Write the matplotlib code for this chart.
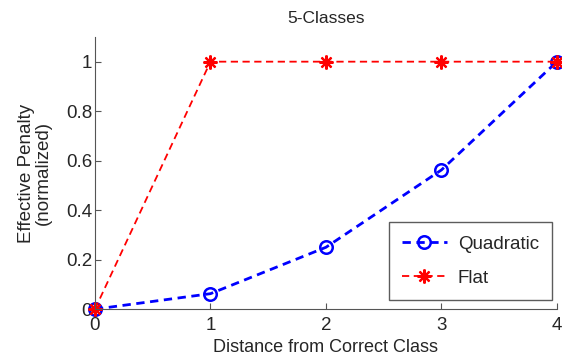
import matplotlib
matplotlib.use("Agg")
from matplotlib import pyplot as plt

plt.rcParams['font.family'] = ['Liberation Sans', 'DejaVu Sans']

distance = [0, 1, 2, 3, 4]
quadratic = [0, 0.0625, 0.25, 0.5625, 1]
flat = [0, 1, 1, 1, 1]

txt = '#262626'

fig = plt.figure(figsize=(5.62, 3.62), dpi=100)
ax = fig.add_axes([0.169, 0.146, 0.822, 0.752])

ax.plot(distance, quadratic, '--', color='blue', lw=2, marker='o',
        markersize=9, markerfacecolor='none', markeredgewidth=1.8,
        dashes=(3, 2), label='Quadratic', clip_on=False)
ax.plot(distance, flat, '--', color='red', lw=1.3, marker=(8, 2, 0),
        markersize=10, markeredgewidth=1.6, dashes=(4, 2.5),
        label='Flat', clip_on=False)

ax.set_xlim(0, 4)
ax.set_ylim(0, 1.1)
ax.set_xticks(distance)
ax.set_yticks([0, 0.2, 0.4, 0.6, 0.8, 1])
ax.set_yticklabels(['0', '0.2', '0.4', '0.6', '0.8', '1'])

for s in ['top', 'right']:
    ax.spines[s].set_visible(False)
for s in ['left', 'bottom']:
    ax.spines[s].set_color('#555555')
ax.tick_params(direction='in', length=4, colors='#555555', labelcolor=txt,
               labelsize=13.5)
ax.tick_params(axis='y', pad=2)
ax.tick_params(axis='x', pad=6)

ax.set_title('5-Classes', fontsize=12.5, color=txt, pad=10)
ax.set_xlabel('Distance from Correct Class', fontsize=13, color=txt, labelpad=3)
ax.set_ylabel('Effective Penalty\n(normalized)', fontsize=13.5, color=txt,
              labelpad=10, linespacing=1.0)

leg = ax.legend(loc='lower right', fontsize=13.5, frameon=True, fancybox=False,
                edgecolor='#333333', handlelength=2.4, handletextpad=0.6,
                borderpad=0.7, labelspacing=0.9,
                bbox_to_anchor=(1.01, 0.0))
leg.get_frame().set_linewidth(1)
for t in leg.get_texts():
    t.set_color(txt)

fig.savefig('out.png', dpi=100)
